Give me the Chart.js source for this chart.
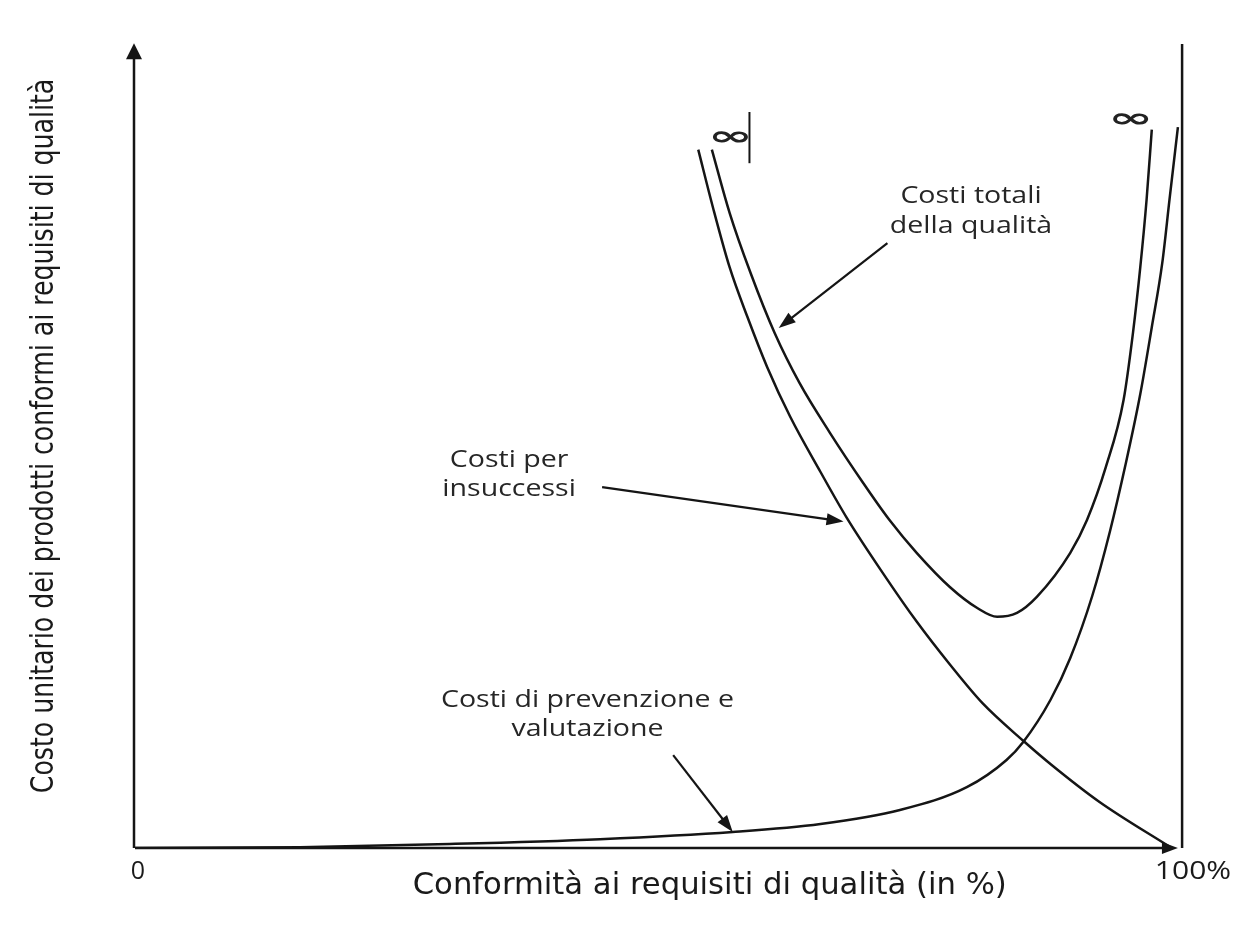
<!DOCTYPE html>
<html>
<head>
<meta charset="utf-8">
<script src="https://cdn.jsdelivr.net/npm/chart.js@4/dist/chart.umd.min.js"></script>
<style>
  html, body { margin: 0; padding: 0; background: #fff; }
  #wrap { width: 1250px; height: 938px; }
</style>
</head>
<body>
<div id="wrap"><canvas id="myChart" width="1250" height="938"></canvas></div>
<script>
// curves (x = % conformity, y = cost, arbitrary units)
const failX = [53.9, 55.3, 56.9, 58.6, 60.5, 62.7, 65.6, 68.1, 71.6, 74.8, 78.0, 81.1, 85.0, 87.6, 92.3, 99.2];
const failY = [87.3, 80.1, 72.6, 66.4, 60.1, 53.9, 47.0, 41.3, 34.3, 28.3, 22.9, 18.1, 13.4, 10.5, 5.75, 0];

const totalX = [55.2, 56.9, 58.9, 61.2, 63.6, 66.5, 69.7, 72.2, 74.8, 78.0, 80.6, 82.5, 84.4, 86.3, 89.5, 91.1, 92.9, 94.6, 95.5, 96.2, 96.8, 97.3];
const totalY = [87.3, 79.4, 71.9, 64.4, 58.1, 51.9, 45.6, 41.0, 36.9, 32.6, 30.0, 28.9, 29.4, 31.4, 36.9, 41.0, 47.6, 56.0, 64.4, 72.6, 81.0, 89.8];

const prevX = [0, 15.8, 30.1, 44.5, 57.2, 65.6, 73.2, 79.6, 83.4, 85.0, 87.6, 89.5, 91.6, 93.3, 94.8, 96.2, 97.3, 98.3, 99.0, 99.8];
const prevY = [0, 0.1, 0.5, 1.1, 2.0, 3.0, 4.75, 7.6, 11.0, 13.25, 18.5, 23.75, 31.5, 39.6, 48.0, 56.75, 65.1, 73.1, 81.1, 90.1];

const xTickLabels = ['0', '100%'];
const xTitle = 'Conformità ai requisiti di qualità (in %)';
const yTitle = 'Costo unitario dei prodotti conformi ai requisiti di qualità';

// annotations: text lines, anchor and arrow (data coords)
const notes = [
  { lines: ['Costi totali', 'della qualità'], x: 80.0, y: 81.4, from: [72.0, 75.6], to: [61.6, 65.0] },
  { lines: ['Costi per', 'insuccessi'], x: 35.8, y: 48.5, from: [44.7, 45.1], to: [67.8, 40.8] },
  { lines: ['Costi di prevenzione e', 'valutazione'], x: 43.3, y: 18.5, from: [51.5, 11.6], to: [57.2, 2.0] }
];
const infinities = [{ x: 57.0, y: 88.7 }, { x: 95.3, y: 91.0 }];

const ink = '#151515';
const toPts = (xs, ys) => xs.map((x, i) => ({ x: x, y: ys[i] }));

function arrow(ctx, x1, y1, x2, y2, head, w) {
  const a = Math.atan2(y2 - y1, x2 - x1);
  ctx.beginPath();
  ctx.moveTo(x1, y1);
  ctx.lineTo(x2 - Math.cos(a) * head * 0.8, y2 - Math.sin(a) * head * 0.8);
  ctx.stroke();
  ctx.beginPath();
  ctx.moveTo(x2, y2);
  ctx.lineTo(x2 - head * Math.cos(a) + w * Math.sin(a), y2 - head * Math.sin(a) - w * Math.cos(a));
  ctx.lineTo(x2 - head * Math.cos(a) - w * Math.sin(a), y2 - head * Math.sin(a) + w * Math.cos(a));
  ctx.closePath();
  ctx.fill();
}

// the source picture is a bit stretched sideways, so text is too
function wideText(ctx, text, x, y, sx, sy) {
  ctx.save();
  ctx.translate(x, y);
  ctx.scale(sx, sy || 1);
  ctx.fillText(text, 0, 0);
  ctx.restore();
}

const decor = {
  id: 'decor',
  afterDatasetsDraw(chart) {
    const ctx = chart.ctx;
    const xs = chart.scales.x, ys = chart.scales.y;
    const X = v => xs.getPixelForValue(v), Y = v => ys.getPixelForValue(v);
    ctx.save();
    ctx.strokeStyle = ink;
    ctx.fillStyle = ink;
    ctx.lineWidth = 2.5;

    // axes with arrow heads
    arrow(ctx, X(0) - 1, Y(0), X(0) - 1, Y(100.6), 16, 8);
    arrow(ctx, X(0), Y(0), X(99.8), Y(0), 16, 6);
    // 100% asymptote
    ctx.beginPath();
    ctx.moveTo(X(100.2), Y(0));
    ctx.lineTo(X(100.2), Y(100.5));
    ctx.stroke();
    // small mark next to the left infinity
    ctx.lineWidth = 2;
    ctx.beginPath();
    ctx.moveTo(X(58.8), Y(92.0));
    ctx.lineTo(X(58.8), Y(85.6));
    ctx.stroke();

    ctx.textAlign = 'center';
    ctx.textBaseline = 'middle';

    // infinity signs
    ctx.font = 'bold 36px "DejaVu Sans"';
    ctx.fillStyle = '#222';
    infinities.forEach(p => wideText(ctx, '∞', X(p.x), Y(p.y), 1.5, 0.75));

    // annotations
    ctx.font = '23px "Open Sans", "DejaVu Sans"';
    ctx.fillStyle = '#262626';
    notes.forEach(n => {
      n.lines.forEach((t, i) => wideText(ctx, t, X(n.x), Y(n.y) + i * 29.5, 1.24));
    });
    ctx.fillStyle = ink;
    ctx.lineWidth = 2.2;
    notes.forEach(n => arrow(ctx, X(n.from[0]), Y(n.from[1]), X(n.to[0]), Y(n.to[1]), 17, 6));

    // tick labels and titles
    ctx.fillStyle = '#1a1a1a';
    ctx.font = '25px "Open Sans", "DejaVu Sans"';
    wideText(ctx, xTickLabels[0], X(0) + 3, Y(0) + 24, 1.0);
    wideText(ctx, xTickLabels[1], X(100) + 13, Y(0) + 24, 1.2);
    const narrow = '"Liberation Sans Narrow", "DejaVu Sans Condensed", "Open Sans"';
    ctx.font = '31px ' + narrow;
    wideText(ctx, xTitle, X(55.0), Y(0) + 38, 1.1);
    ctx.translate(45, Y(51.5));
    ctx.rotate(-Math.PI / 2);
    ctx.scale(1, 1.15);
    ctx.font = '28px ' + narrow;
    ctx.fillText(yTitle, 0, 0);
    ctx.restore();
  }
};

const lineStyle = { borderColor: ink, borderWidth: 2.5, pointRadius: 0, showLine: true, fill: false, cubicInterpolationMode: 'monotone' };

new Chart(document.getElementById('myChart'), {
  type: 'scatter',
  data: {
    datasets: [
      Object.assign({ label: 'Costi per insuccessi', data: toPts(failX, failY) }, lineStyle),
      Object.assign({ label: 'Costi totali della qualità', data: toPts(totalX, totalY) }, lineStyle),
      Object.assign({ label: 'Costi di prevenzione e valutazione', data: toPts(prevX, prevY) }, lineStyle)
    ]
  },
  options: {
    responsive: false,
    animation: false,
    layout: { padding: { left: 135, right: 70, top: 48, bottom: 90 } },
    scales: {
      x: { type: 'linear', min: 0, max: 100, display: false },
      y: { type: 'linear', min: 0, max: 100, display: false }
    },
    plugins: { legend: { display: false }, tooltip: { enabled: false } }
  },
  plugins: [decor]
});
</script>
</body>
</html>
